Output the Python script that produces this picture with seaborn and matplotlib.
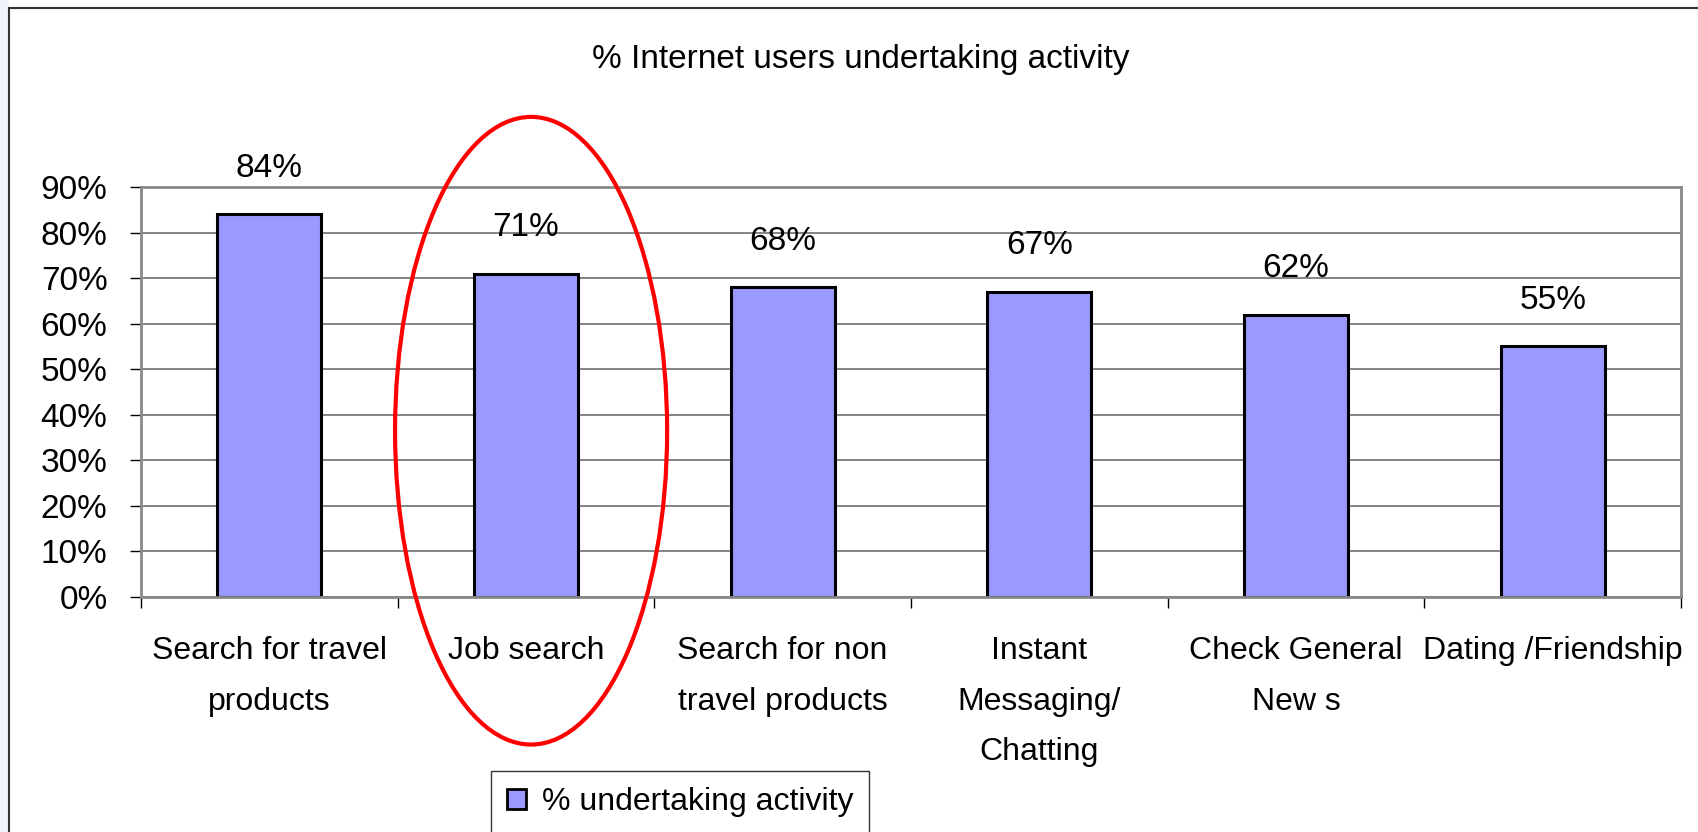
import matplotlib
matplotlib.use("Agg")
import matplotlib.pyplot as plt
import seaborn as sns
from matplotlib.patches import Ellipse, Rectangle
from matplotlib.lines import Line2D

# ---- Data ----
activities = ["Search for travel\nproducts", "Job search",
              "Search for non\ntravel products", "Instant\nMessaging/\nChatting",
              "Check General\nNew s", "Dating /Friendship"]
share = [0.84, 0.71, 0.68, 0.67, 0.62, 0.55]
value_labels = ["84%", "71%", "68%", "67%", "62%", "55%"]
y_ticks = [0.0, 0.1, 0.2, 0.3, 0.4, 0.5, 0.6, 0.7, 0.8, 0.9]
y_tick_labels = ["0%", "10%", "20%", "30%", "40%", "50%", "60%", "70%", "80%", "90%"]
series_name = "% undertaking activity"
chart_title = "% Internet users undertaking activity"

sns.set_style("white")
plt.rcParams['font.family'] = ['Liberation Sans', 'DejaVu Sans']
plt.rcParams['text.color'] = 'black'
plt.rcParams['xtick.color'] = 'black'
plt.rcParams['ytick.color'] = 'black'

FS = 23
BAR_COLOR = "#9999ff"

fig = plt.figure(figsize=(16.98, 8.32), dpi=100)
ax = fig.add_axes([0.083, 0.2825, 0.907, 0.4927])

sns.barplot(x=activities, y=share, color=BAR_COLOR, edgecolor="black",
            linewidth=2.2, width=0.405, saturation=1, ax=ax)

ax.set_xlim(-0.5, len(activities) - 0.5)
ax.set_ylim(0, 0.9)
ax.set_yticks(y_ticks)
ax.set_yticklabels(y_tick_labels, fontsize=FS + 1)
ax.set_xlabel("")
ax.set_ylabel("")

# gridlines behind bars
ax.set_axisbelow(True)
ax.yaxis.grid(True, color="#6e6e6e", linewidth=1.2)
ax.xaxis.grid(False)

for side in ["left", "right", "top", "bottom"]:
    ax.spines[side].set_visible(True)
    ax.spines[side].set_color("#888888")
    ax.spines[side].set_linewidth(2)

# category ticks sit on the boundaries between bars
ax.set_xticks([i - 0.5 for i in range(len(activities) + 1)], minor=True)
ax.set_xticks(range(len(activities)))
ax.set_xticklabels(activities, fontsize=FS, linespacing=1.9, va="top")
ax.tick_params(axis="x", which="major", length=0, pad=28)
ax.tick_params(axis="x", which="minor", length=8, width=1, color="black",
               direction="out", bottom=True)
ax.tick_params(axis="y", length=8, width=1, color="black", direction="out",
               left=True, pad=16)

# value labels above bars
for i, (v, lab) in enumerate(zip(share, value_labels)):
    ax.annotate(lab, (i, v), xytext=(0, 33), textcoords="offset points",
                ha="center", va="center", fontsize=FS + 1, clip_on=False)

# title
fig.text(0.507, 0.929, chart_title, ha="center", va="center", fontsize=FS + 1)

# legend
handle = Rectangle((0, 0), 1, 1, facecolor=BAR_COLOR, edgecolor="black", linewidth=2)
leg = fig.legend([handle], [series_name], loc="center",
                 bbox_to_anchor=(0.4005, 0.036), fontsize=FS, frameon=True,
                 fancybox=False, handlelength=0.6, handleheight=0.6,
                 handletextpad=0.5, borderpad=0.5)
leg.get_frame().set_edgecolor("black")
leg.get_frame().set_linewidth(1)

# red highlight ellipse round "Job search"
ax.add_patch(Ellipse((1.02, 0.365), 1.06, 1.378, fill=False, edgecolor="red",
                     linewidth=3, clip_on=False, zorder=5))

# outer chart frame and slide strip at left
fig.patches.append(Rectangle((0, 0), 9 / 1698, 1, transform=fig.transFigure,
                             facecolor="#eef3fa", edgecolor="none", zorder=0))
fig.add_artist(Line2D([9 / 1698, 9 / 1698], [0, 1 - 8 / 832],
                      transform=fig.transFigure, color="#333333", linewidth=1.5))
fig.add_artist(Line2D([9 / 1698, 1], [1 - 8 / 832, 1 - 8 / 832],
                      transform=fig.transFigure, color="#333333", linewidth=1.5))

fig.savefig("out.png", dpi=100)
